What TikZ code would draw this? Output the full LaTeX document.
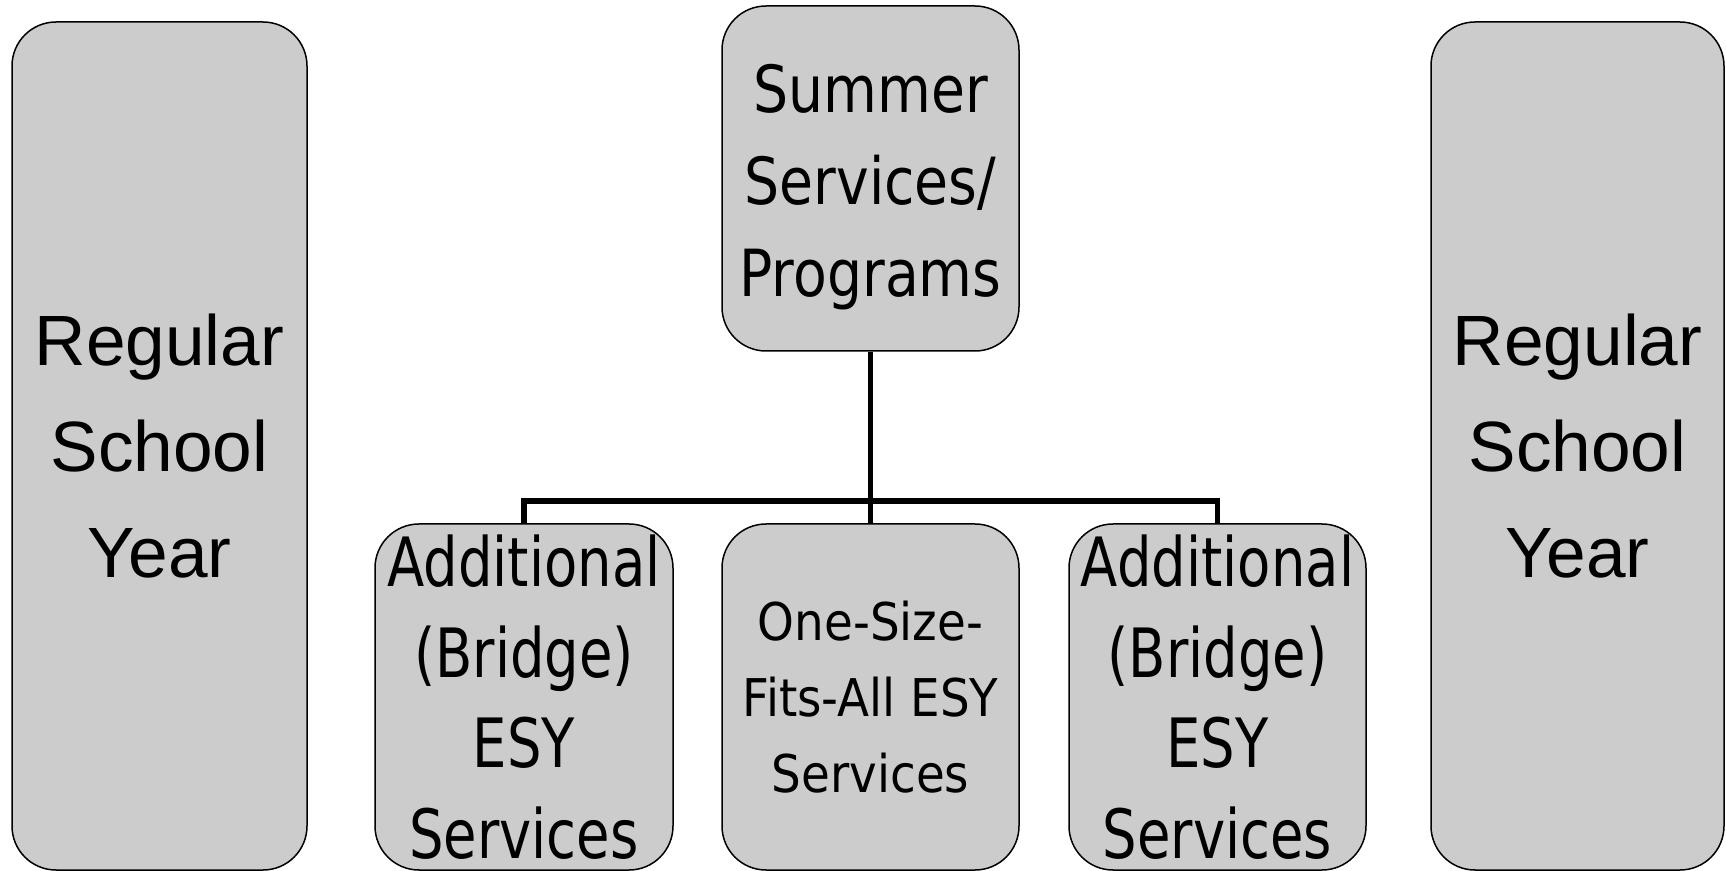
\documentclass[tikz,border=0pt]{standalone}
\usepackage{fontspec}
\setmainfont{Liberation Sans}
\newfontfamily\arialf{Liberation Sans}
\newfontfamily\sumf[FakeStretch=0.85]{DejaVu Sans}
\newfontfamily\addf[FakeStretch=0.80]{DejaVu Sans}
\newfontfamily\onef[FakeStretch=0.90]{DejaVu Sans}
\definecolor{boxgray}{RGB}{204,204,204}
\tikzset{
  gbox/.style={draw=black, line width=0.75pt, fill=boxgray, rounded corners=22pt,
    align=center, inner sep=0pt},
  conn/.style={draw=black, line width=2.6pt}
}
\begin{document}
\begin{tikzpicture}[x=0.5pt,y=-0.5pt]
\useasboundingbox (0,0) rectangle (1726,871);
\node[gbox, minimum width=147.5pt, minimum height=424pt,
  font={\arialf\fontsize{35.6}{52.8}\selectfont}] (rsy1) at (159.5,446) {Regular\\School\\Year};
\node[gbox, minimum width=146.5pt, minimum height=424pt,
  font={\arialf\fontsize{35.6}{52.8}\selectfont}] (rsy2) at (1577.5,446) {Regular\\School\\Year};
\node[gbox, minimum width=148.5pt, minimum height=172.5pt,
  label={[font={\sumf\fontsize{32.5}{46}\selectfont}, align=center, yshift=-4.5pt]center:Summer\\Services/\\Programs}] (sum) at (870.5,178.5) {};
\node[gbox, minimum width=149pt, minimum height=173pt,
  font={\addf\fontsize{34}{45.3}\selectfont}] (ad1) at (524,697) {Additional\\(Bridge)\\ESY\\Services};
\node[gbox, minimum width=148.5pt, minimum height=173pt,
  font={\onef\fontsize{26}{38}\selectfont}] (mid) at (870.5,697) {One-Size-\\Fits-All ESY\\Services};
\node[gbox, minimum width=148.5pt, minimum height=173pt,
  font={\addf\fontsize{34}{45.3}\selectfont}] (ad2) at (1217.5,697) {Additional\\(Bridge)\\ESY\\Services};
\coordinate (hub) at (870.5,501);
\draw[conn] (sum.south) -- (mid.north);
\draw[conn] (ad1.north) |- (hub) -| (ad2.north);
\end{tikzpicture}
\end{document}
